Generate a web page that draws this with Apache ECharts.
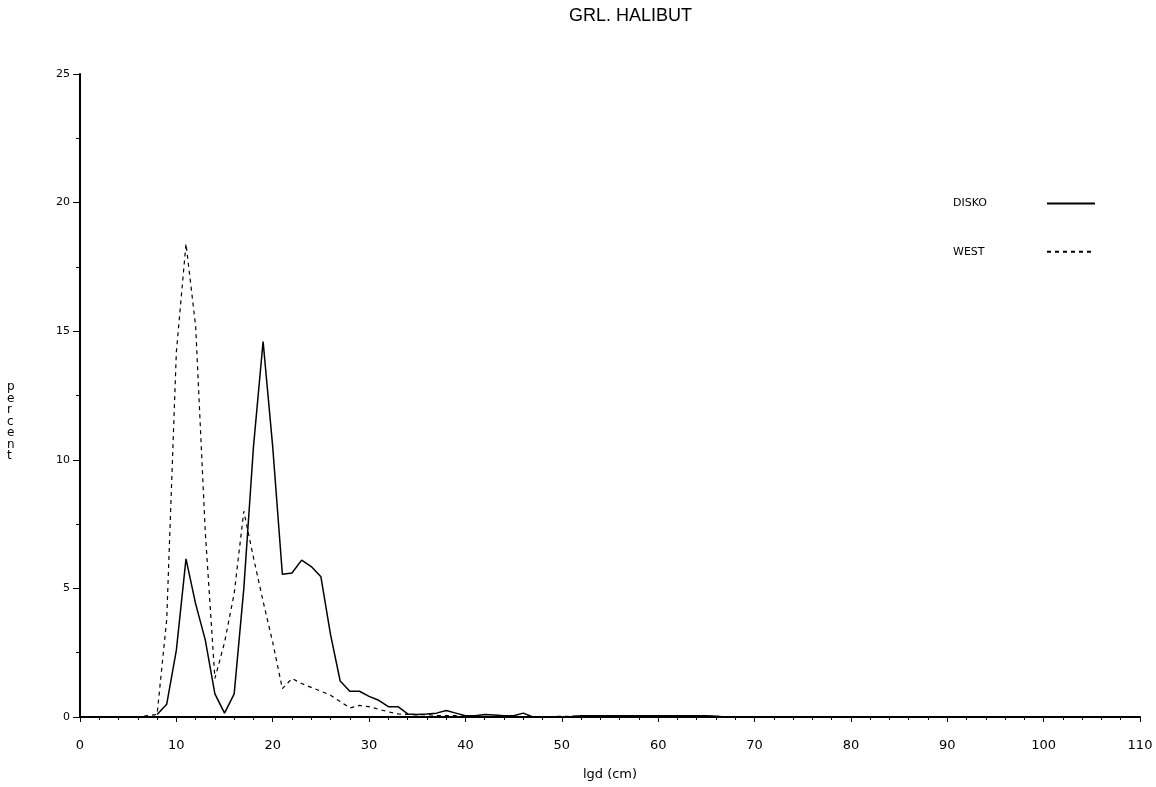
<!DOCTYPE html>
<html>
<head>
<meta charset="utf-8">
<title>GRL. HALIBUT</title>
<script src="https://cdn.jsdelivr.net/npm/echarts@6/dist/echarts.min.js"></script>
<style>
  html, body { margin: 0; padding: 0; background: #fff; }
  #main { width: 1156px; height: 787px; }
</style>
</head>
<body>
<div id="main"></div>
<script>
// lengths (cm) and percent for each area
var diskoLen = [8, 9, 10, 11, 12, 13, 14, 15, 16, 17, 18, 19, 20, 21, 22, 23, 24, 25, 26, 27,
  28, 29, 30, 31, 32, 33, 34, 35, 36, 37, 38, 39, 40, 41, 42, 43, 44, 45, 46, 47,
  48, 49, 50, 51, 52, 53, 54, 55, 56, 57, 58, 59, 60, 61, 62, 63, 64, 65, 66, 67];
var diskoPct = [0.1, 0.5, 2.6, 6.15, 4.4, 3.0, 0.9, 0.15, 0.9, 5.0, 10.5, 14.6, 10.5, 5.55, 5.6, 6.1, 5.85, 5.45, 3.2, 1.4,
  1.0, 1.0, 0.8, 0.65, 0.4, 0.4, 0.12, 0.1, 0.12, 0.15, 0.25, 0.15, 0.05, 0.05, 0.1, 0.08, 0.05, 0.05, 0.15, 0.0,
  0.0, 0.0, 0.0, 0.02, 0.05, 0.05, 0.05, 0.05, 0.05, 0.05, 0.05, 0.05, 0.05, 0.05, 0.05, 0.05, 0.05, 0.05, 0.03, 0.0];

var westLen = [5, 6, 7, 8, 9, 10, 11, 12, 13, 14, 15, 16, 17, 18, 19, 20, 21, 22, 23, 24,
  25, 26, 27, 28, 29, 30, 31, 32, 33, 34, 35, 36, 37, 38, 39, 40, 41, 42, 43, 44,
  45, 46, 47, 48, 49, 50, 51, 52, 53, 54, 55, 56, 57, 58, 59, 60, 61, 62, 63, 64,
  65, 66, 67, 68, 69, 70, 71, 72, 73, 74, 75, 76, 77, 78, 79, 80, 81, 82];
var westPct = [0.0, 0.0, 0.05, 0.1, 3.8, 14.2, 18.4, 15.2, 7.2, 1.5, 2.9, 4.8, 8.0, 6.2, 4.5, 2.9, 1.1, 1.5, 1.3, 1.15,
  1.0, 0.85, 0.6, 0.35, 0.45, 0.4, 0.3, 0.2, 0.12, 0.1, 0.08, 0.1, 0.05, 0.05, 0.05, 0.02, 0.02, 0.02, 0.02, 0.02,
  0.02, 0.02, 0.02, 0.02, 0.02, 0.03, 0.03, 0.03, 0.03, 0.03, 0.03, 0.03, 0.03, 0.03, 0.03, 0.03, 0.03, 0.03, 0.03, 0.03,
  0.03, 0.03, 0.0, 0.0, 0.0, 0.0, 0.0, 0.0, 0.0, 0.0, 0.0, 0.0, 0.0, 0.0, 0.0, 0.0, 0.0, 0.0];

var xTicks = [0, 10, 20, 30, 40, 50, 60, 70, 80, 90, 100, 110];
var yTicks = [0, 5, 10, 15, 20, 25];

function pairs(xs, ys) {
  return xs.map(function (x, i) { return [x, ys[i]]; });
}

var myChart = echarts.init(document.getElementById('main'));
myChart.setOption({
  animation: false,
  backgroundColor: '#fff',
  title: {
    text: 'GRL. HALIBUT',
    left: 564,
    top: 2,
    textStyle: { color: '#000', fontFamily: 'Liberation Sans', fontWeight: 'normal', fontSize: 18 }
  },
  legend: {
    orient: 'vertical',
    left: 948,
    top: 193,
    align: 'right',
    itemWidth: 48,
    itemHeight: 14,
    itemGap: 37,
    formatter: '{a|{name}}',
    textStyle: {
      color: '#000', fontFamily: 'DejaVu Sans', fontSize: 11,
      padding: [0, 45, 0, 0],
      rich: { a: { width: 44, align: 'left', color: '#000', fontFamily: 'DejaVu Sans', fontSize: 11 } }
    },
    data: [
      { name: 'DISKO', itemStyle: { opacity: 0 } },
      { name: 'WEST', itemStyle: { opacity: 0 } }
    ]
  },
  // stacked y axis title, as in the original plot
  graphic: [{
    type: 'text',
    left: 7,
    top: 381,
    style: {
      text: 'p\ne\nr\nc\ne\nn\nt',
      fill: '#000',
      font: '12px "DejaVu Sans"',
      lineHeight: 11.5,
      align: 'center'
    }
  }],
  grid: { left: 80, right: 16, top: 74, bottom: 70 },
  xAxis: {
    type: 'value',
    min: xTicks[0],
    max: xTicks[xTicks.length - 1],
    interval: 10,
    name: 'lgd (cm)',
    nameLocation: 'middle',
    nameGap: 51,
    nameTextStyle: { color: '#000', fontFamily: 'DejaVu Sans', fontSize: 13 },
    axisLine: { onZero: false, lineStyle: { color: '#000', width: 2 } },
    axisTick: { length: 5, lineStyle: { color: '#000' } },
    minorTick: { show: true, splitNumber: 5, length: 3, lineStyle: { color: '#000' } },
    axisLabel: { margin: 22, color: '#000', fontFamily: 'DejaVu Sans', fontSize: 13 },
    splitLine: { show: false }
  },
  yAxis: {
    type: 'value',
    min: yTicks[0],
    max: yTicks[yTicks.length - 1],
    interval: 5,
    axisLine: { onZero: false, lineStyle: { color: '#000', width: 2 } },
    axisTick: { length: 7, lineStyle: { color: '#000' } },
    minorTick: { show: true, splitNumber: 2, length: 4, lineStyle: { color: '#000' } },
    axisLabel: { margin: 10, color: '#000', fontFamily: 'DejaVu Sans', fontSize: 11 },
    splitLine: { show: false }
  },
  series: [
    {
      name: 'DISKO',
      type: 'line',
      symbol: 'none',
      data: pairs(diskoLen, diskoPct),
      lineStyle: { color: '#000', width: 1.5 },
      itemStyle: { color: '#000' }
    },
    {
      name: 'WEST',
      type: 'line',
      symbol: 'none',
      data: pairs(westLen, westPct),
      lineStyle: { color: '#000', width: 1.2, type: [4, 4] },
      itemStyle: { color: '#000' }
    }
  ]
});
</script>
</body>
</html>
